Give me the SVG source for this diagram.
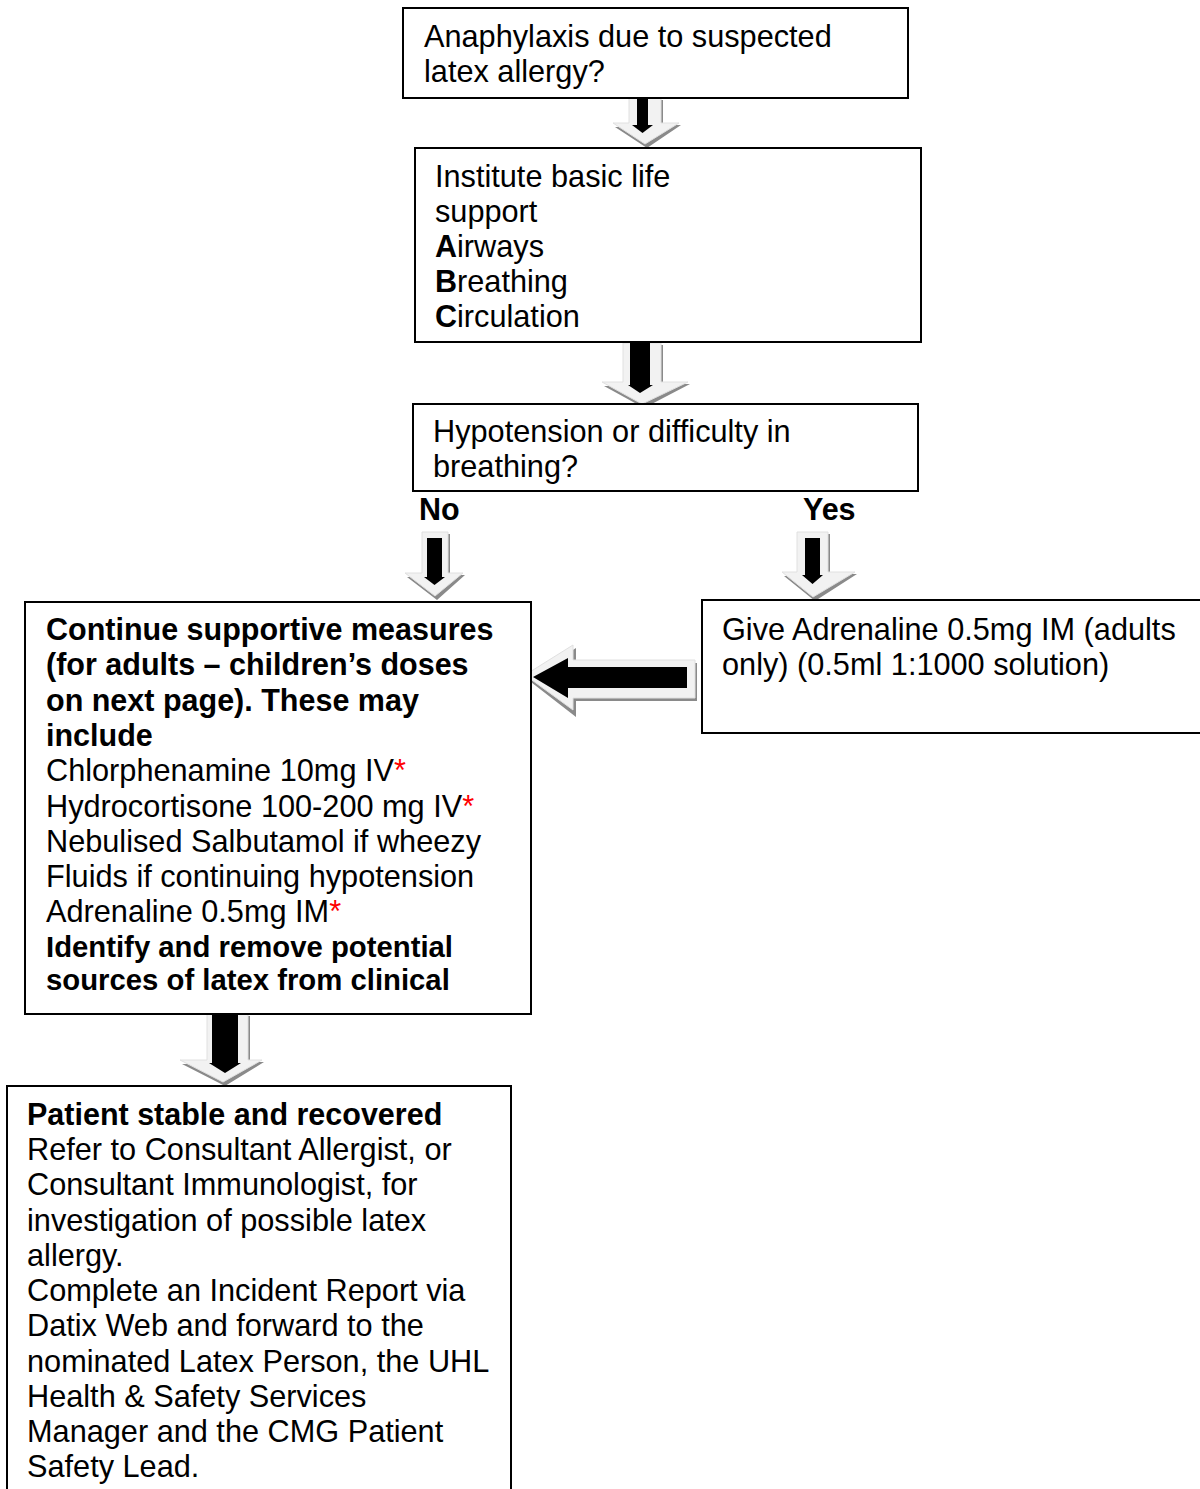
<svg xmlns="http://www.w3.org/2000/svg" width="1200" height="1489" viewBox="0 0 1200 1489">
<style>
.box{fill:#fff;stroke:#000;stroke-width:2}
.t{font-family:"Liberation Sans",Arial,sans-serif;font-size:30.7px;fill:#000}
.b{font-weight:bold;font-size:30.5px}
.s{font-size:29.3px}
.r{fill:#ff0000}
.sh{fill:#8a8a8a}
.out{fill:#f2f2f2;stroke:#e0e0e0;stroke-width:1}
.in{fill:#000}
</style>
<rect width="1200" height="1489" fill="#fff"/>
<g id="connectors">
  <g id="arrow1">
    <path class="sh" d="M631,100 H663 V125 H681 L647,148 L615,127 H631 Z"/>
    <path class="out" d="M629,98 H661 V123 H679 L645,144 L613,123 H629 Z"/>
    <path class="in" d="M637,98 H648 V125 H653 L642.5,133 L632,125 H637 Z"/>
  </g>
  <g id="arrow2">
    <path class="sh" d="M625,345 H663 V384 H690 L644,408 L604,386 H625 Z"/>
    <path class="out" d="M623,343 H661 V382 H688 L642,404 L602,382 H623 Z"/>
    <path class="in" d="M630,343 H650 V385 H653 L640,393 L628,385 H630 Z"/>
  </g>
  <g id="arrow3">
    <path class="sh" d="M424,534 H450 V575 H465 L437,600 L407,577 H424 Z"/>
    <path class="out" d="M422,532 H448 V573 H463 L435,596 L405,573 H422 Z"/>
    <path class="in" d="M427,538 H442 V577 H445 L434.5,585 L424,577 H427 Z"/>
  </g>
  <g id="arrow4">
    <path class="sh" d="M799,534 H830 V574 H857 L815,601 L784,576 H799 Z"/>
    <path class="out" d="M797,532 H828 V572 H855 L813,597 L782,572 H797 Z"/>
    <path class="in" d="M805,538 H820 V575 H823 L812.5,584 L802,575 H805 Z"/>
  </g>
  <g id="arrow5">
    <path class="sh" d="M527,679 L576,648 V663 H697 V701 H576 V717 Z"/>
    <path class="out" d="M525,675 L573,645 V660 H695 V698 H573 V710 Z"/>
    <path class="in" d="M533,677 L568,658 V667 H687 V688 H568 V698 Z"/>
  </g>
  <g id="arrow6">
    <path class="sh" d="M209,1016 H250 V1062 H264 L225,1086 L182,1064 H209 Z"/>
    <path class="out" d="M207,1014 H248 V1060 H262 L223,1082 L180,1060 H207 Z"/>
    <path class="in" d="M212,1015 H238 V1063 H241 L225,1073 L209,1063 H212 Z"/>
  </g>
</g>
<g id="node1">
  <rect class="box" x="403" y="8" width="505" height="90"/>
  <text class="t" x="424" y="47">Anaphylaxis due to suspected</text>
  <text class="t" x="424" y="82">latex allergy?</text>
</g>
<g id="node2">
  <rect class="box" x="415" y="148" width="506" height="194"/>
  <text class="t" x="435" y="187">Institute basic life</text>
  <text class="t" x="435" y="222">support</text>
  <text class="t" x="435" y="257"><tspan class="b">A</tspan>irways</text>
  <text class="t" x="435" y="292"><tspan class="b">B</tspan>reathing</text>
  <text class="t" x="435" y="327"><tspan class="b">C</tspan>irculation</text>
</g>
<g id="node3">
  <rect class="box" x="413" y="404" width="505" height="87"/>
  <text class="t" x="433" y="442">Hypotension or difficulty in</text>
  <text class="t" x="433" y="477">breathing?</text>
</g>
<g id="label-no"><text class="t b" x="419" y="520">No</text></g>
<g id="label-yes"><text class="t b" x="803" y="520">Yes</text></g>
<g id="node4">
  <rect class="box" x="25" y="602" width="506" height="412"/>
  <text class="t b" x="46" y="640">Continue supportive measures</text>
  <text class="t b" x="46" y="675">(for adults – children’s doses</text>
  <text class="t b" x="46" y="710.5">on next page). These may</text>
  <text class="t b" x="46" y="745.8">include</text>
  <text class="t" x="46" y="781">Chlorphenamine 10mg IV<tspan class="r">*</tspan></text>
  <text class="t" x="46" y="816.5">Hydrocortisone 100-200 mg IV<tspan class="r">*</tspan></text>
  <text class="t" x="46" y="852">Nebulised Salbutamol if wheezy</text>
  <text class="t" x="46" y="887">Fluids if continuing hypotension</text>
  <text class="t" x="46" y="922">Adrenaline 0.5mg IM<tspan class="r">*</tspan></text>
  <text class="t b s" x="46" y="957">Identify and remove potential</text>
  <text class="t b s" x="46" y="990">sources of latex from clinical</text>
</g>
<g id="node5">
  <rect class="box" x="702" y="600" width="510" height="133"/>
  <text class="t" x="722" y="640">Give Adrenaline 0.5mg IM (adults</text>
  <text class="t" x="722" y="675">only) (0.5ml 1:1000 solution)</text>
</g>
<g id="node6">
  <rect class="box" x="7" y="1086" width="504" height="420"/>
  <text class="t b" x="27" y="1124.6">Patient stable and recovered</text>
  <text class="t" x="27" y="1160">Refer to Consultant Allergist, or</text>
  <text class="t" x="27" y="1195.2">Consultant Immunologist, for</text>
  <text class="t" x="27" y="1230.5">investigation of possible latex</text>
  <text class="t" x="27" y="1265.8">allergy.</text>
  <text class="t" x="27" y="1301">Complete an Incident Report via</text>
  <text class="t" x="27" y="1336.4">Datix Web and forward to the</text>
  <text class="t" x="27" y="1371.7">nominated Latex Person, the UHL</text>
  <text class="t" x="27" y="1407">Health &amp; Safety Services</text>
  <text class="t" x="27" y="1442">Manager and the CMG Patient</text>
  <text class="t" x="27" y="1477">Safety Lead.</text>
</g>
</svg>
